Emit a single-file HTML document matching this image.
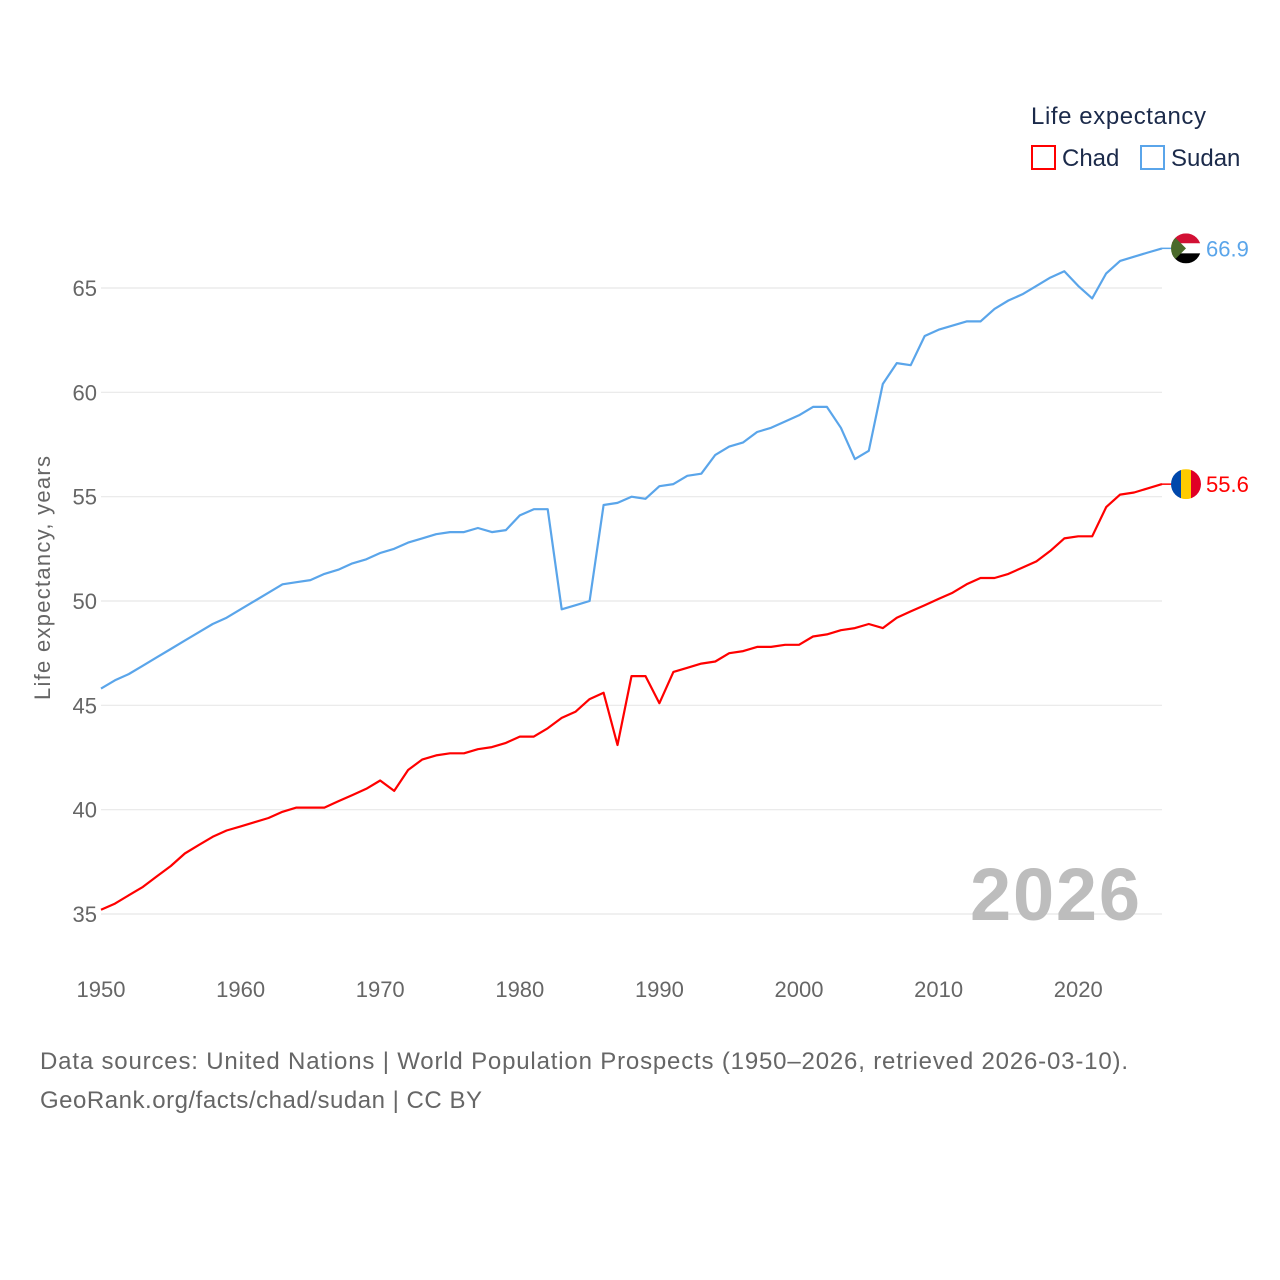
<!DOCTYPE html>
<html><head><meta charset="utf-8"><style>
body{margin:0;background:#fff;font-family:"Liberation Sans",sans-serif}
svg{display:block}
</style></head><body>
<svg id="chart" width="1280" height="1280" viewBox="0 0 1280 1280" xmlns="http://www.w3.org/2000/svg">
<g id="grid"></g>
<g id="yticks"></g>
<g id="xticks"></g>
<text transform="translate(50,578) rotate(-90)" text-anchor="middle" font-size="22" fill="#666" textLength="244">Life expectancy, years</text>
<text x="1140" y="920" text-anchor="end" font-size="74" font-weight="bold" fill="#bdbdbd" textLength="170">2026</text>
<g id="series"></g>
<g>
<text x="1031" y="124" font-size="24" fill="#1b2a4a" textLength="175">Life expectancy</text>
<rect x="1032" y="146" width="23" height="23" fill="none" stroke="#ff0000" stroke-width="2"/>
<text x="1062" y="166" font-size="24" fill="#1b2a4a">Chad</text>
<rect x="1141" y="146" width="23" height="23" fill="none" stroke="#5aa5ea" stroke-width="2"/>
<text x="1171" y="166" font-size="24" fill="#1b2a4a">Sudan</text>
</g>
<text x="40" y="1069" font-size="24" fill="#666" textLength="1088">Data sources: United Nations | World Population Prospects (1950–2026, retrieved 2026-03-10).</text>
<text x="40" y="1108" font-size="24" fill="#666" textLength="442">GeoRank.org/facts/chad/sudan | CC BY</text>
</svg>
<script>
const years = [];
for (let y = 1950; y <= 2026; y++) years.push(y);
const sudan = [45.8,46.2,46.5,46.9,47.3,47.7,48.1,48.5,48.9,49.2,49.6,50.0,50.4,50.8,50.9,51.0,51.3,51.5,51.8,52.0,52.3,52.5,52.8,53.0,53.2,53.3,53.3,53.5,53.3,53.4,54.1,54.4,54.4,49.6,49.8,50.0,54.6,54.7,55.0,54.9,55.5,55.6,56.0,56.1,57.0,57.4,57.6,58.1,58.3,58.6,58.9,59.3,59.3,58.3,56.8,57.2,60.4,61.4,61.3,62.7,63.0,63.2,63.4,63.4,64.0,64.4,64.7,65.1,65.5,65.8,65.1,64.5,65.7,66.3,66.5,66.7,66.9];
const chad = [35.2,35.5,35.9,36.3,36.8,37.3,37.9,38.3,38.7,39.0,39.2,39.4,39.6,39.9,40.1,40.1,40.1,40.4,40.7,41.0,41.4,40.9,41.9,42.4,42.6,42.7,42.7,42.9,43.0,43.2,43.5,43.5,43.9,44.4,44.7,45.3,45.6,43.1,46.4,46.4,45.1,46.6,46.8,47.0,47.1,47.5,47.6,47.8,47.8,47.9,47.9,48.3,48.4,48.6,48.7,48.9,48.7,49.2,49.5,49.8,50.1,50.4,50.8,51.1,51.1,51.3,51.6,51.9,52.4,53.0,53.1,53.1,54.5,55.1,55.2,55.4,55.6];
const yTicks = [35,40,45,50,55,60,65];
const xTicks = [1950,1960,1970,1980,1990,2000,2010,2020];

const NS = "http://www.w3.org/2000/svg";
const xs = y => 101 + (y - 1950) * (1162 - 101) / 76;
const ys = v => 288 + (65 - v) * (914 - 288) / 30;
function mk(tag, attrs, parent, txt){const e=document.createElementNS(NS,tag);for(const k in attrs)e.setAttribute(k,attrs[k]);if(txt!==undefined)e.textContent=txt;parent.appendChild(e);return e;}
const grid=document.getElementById('grid'), yt=document.getElementById('yticks'), xt=document.getElementById('xticks'), ser=document.getElementById('series');
yTicks.forEach(v=>{
  const l=mk('line',{x1:101,x2:1162,y1:ys(v),y2:ys(v),stroke:'#e8e8e8','stroke-width':1.2},grid);
  
  
  const t=mk('text',{x:97,y:ys(v)+8,'text-anchor':'end','font-size':22,fill:'#666'},yt,String(v));
  
  
});
xTicks.forEach(y=>{
  const t=mk('text',{x:xs(y),y:997,'text-anchor':'middle','font-size':22,fill:'#666'},xt,String(y));
  
  
});
function line(vals,color,name){
  const d=vals.map((v,i)=>(i?'L':'M')+xs(years[i]).toFixed(1)+','+ys(v).toFixed(1)).join(' ');
  const p=mk('path',{d:d,fill:'none',stroke:color,'stroke-width':2.2,'stroke-linejoin':'round'},ser);
  
  
  const last=vals[vals.length-1], cy=ys(last);
  const c=mk('line',{x1:1162,x2:1172,y1:cy,y2:cy,stroke:color,'stroke-width':1.5},ser);
  
  
  const t=mk('text',{x:1206,y:cy+8,'font-size':22,fill:color},ser,last.toFixed(1));
  
  
  return cy;
}
const cyS=line(sudan,'#5aa5ea','sudan');
const cyC=line(chad,'#ff0000','chad');
const fs=mk('g',{},ser);


mk('clipPath',{id:'cs'},fs);
mk('circle',{cx:1186,cy:cyS,r:15},document.getElementById('cs'));
const gs=mk('g',{'clip-path':'url(#cs)'},fs);
mk('rect',{x:1171,y:cyS-15,width:30,height:10,fill:'#d21034'},gs);
mk('rect',{x:1171,y:cyS-5,width:30,height:10,fill:'#fff'},gs);
mk('rect',{x:1171,y:cyS+5,width:30,height:10,fill:'#000'},gs);
mk('polygon',{points:`1171,${cyS-15} 1186,${cyS} 1171,${cyS+15}`,fill:'#4a6a2a'},gs);
const fc=mk('g',{},ser);


mk('clipPath',{id:'cc'},fc);
mk('circle',{cx:1186,cy:cyC,r:15},document.getElementById('cc'));
const gc=mk('g',{'clip-path':'url(#cc)'},fc);
mk('rect',{x:1171,y:cyC-15,width:10,height:30,fill:'#0047ab'},gc);
mk('rect',{x:1181,y:cyC-15,width:10,height:30,fill:'#fecb00'},gc);
mk('rect',{x:1191,y:cyC-15,width:10,height:30,fill:'#e00025'},gc);
</script>
</body></html>
